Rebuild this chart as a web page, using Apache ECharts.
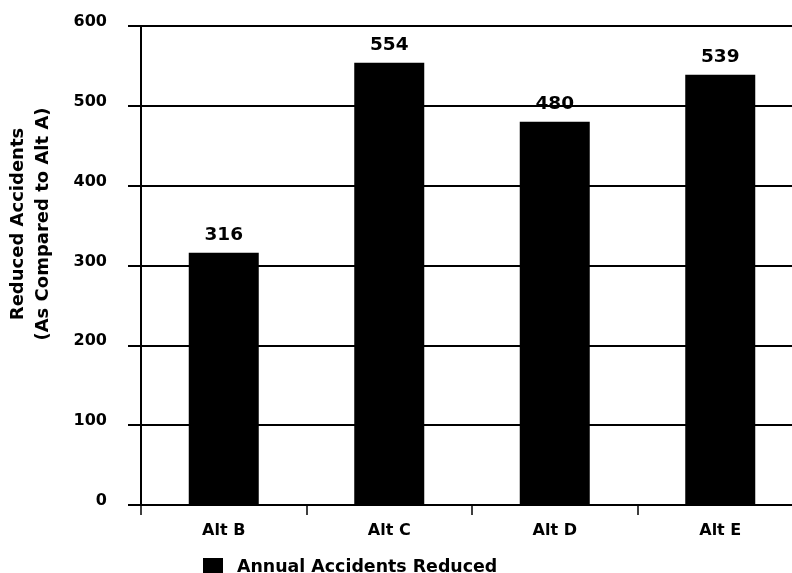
<!DOCTYPE html>
<html>
<head>
<meta charset="utf-8">
<script src="https://cdn.jsdelivr.net/npm/echarts@6/dist/echarts.min.js"></script>
<style>
html,body{margin:0;padding:0;background:#fff;overflow:hidden;width:792px;height:573px;}
#chart{width:812px;height:573px;}
</style>
</head>
<body>
<div id="chart"></div>
<script>
const categories = ['Alt B', 'Alt C', 'Alt D', 'Alt E'];
const reducedAccidents = [316, 554, 480, 539];
const seriesName = 'Annual Accidents Reduced';
const yAxisTitleLines = ['Reduced Accidents', '(As Compared to Alt A)'];
const yMin = 0, yMax = 600, yStep = 100;

const FONT = '"DejaVu Sans", sans-serif';
const chart = echarts.init(document.getElementById('chart'));
chart.setOption({
  backgroundColor: '#ffffff',
  animation: false,
  grid: { left: 141, width: 662, top: 26, height: 479, containLabel: false },
  legend: {
    data: [seriesName],
    left: 198, top: 553,
    icon: 'rect',
    itemWidth: 20, itemHeight: 19,
    textStyle: { fontFamily: FONT, fontWeight: 'bold', fontSize: 17.4, color: '#000', padding: [0, 0, 0, 9] }
  },
  graphic: [
    { type: 'text', x: 18, y: 224, rotation: Math.PI / 2,
      style: { text: yAxisTitleLines[0], fontFamily: FONT, fontWeight: 'bold', fontSize: 18, fill: '#000', align: 'center', verticalAlign: 'middle' } },
    { type: 'text', x: 43, y: 224, rotation: Math.PI / 2,
      style: { text: yAxisTitleLines[1], fontFamily: FONT, fontWeight: 'bold', fontSize: 18, fill: '#000', align: 'center', verticalAlign: 'middle' } }
  ],
  xAxis: {
    type: 'category',
    data: categories,
    axisLine: { show: true, lineStyle: { color: '#000', width: 2 } },
    axisTick: { show: true, length: 10, lineStyle: { color: '#000', width: 1.5 } },
    axisLabel: { fontFamily: FONT, fontWeight: 'bold', fontSize: 16, color: '#000', margin: 18 }
  },
  yAxis: {
    type: 'value',
    min: yMin, max: yMax, interval: yStep,
    axisLine: { show: true, lineStyle: { color: '#000', width: 2 } },
    axisTick: { show: true, length: 13, lineStyle: { color: '#000', width: 2 } },
    splitLine: { show: true, lineStyle: { color: '#000', width: 2 } },
    axisLabel: { fontFamily: FONT, fontWeight: 'bold', fontSize: 16, color: '#000', margin: 34, verticalAlign: 'bottom', lineHeight: 8 }
  },
  series: [{
    name: seriesName,
    type: 'bar',
    data: reducedAccidents,
    barWidth: 70,
    itemStyle: { color: '#000' },
    label: { show: true, position: 'top', distance: 8, fontFamily: FONT, fontWeight: 'bold', fontSize: 18.5, color: '#000' }
  }]
});
</script>
</body>
</html>
